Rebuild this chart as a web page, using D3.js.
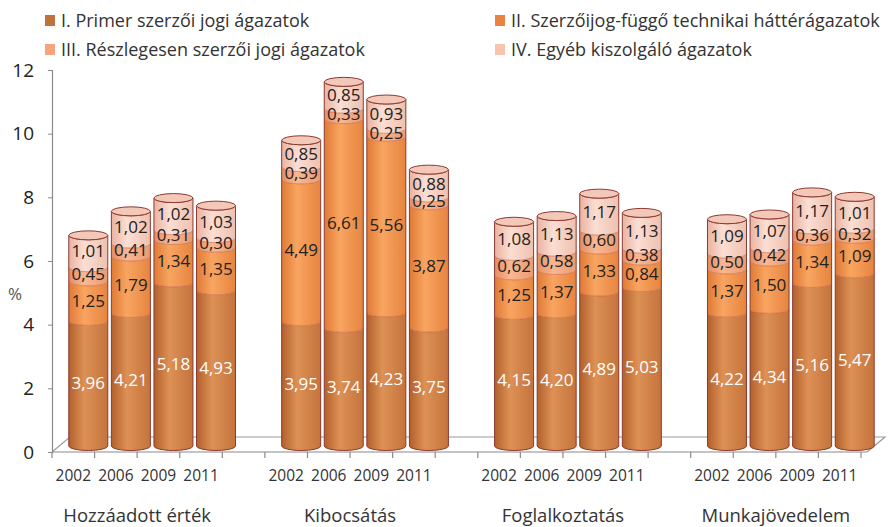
<!DOCTYPE html>
<html>
<head>
<meta charset="utf-8">
<script src="https://cdn.jsdelivr.net/npm/d3@7"></script>
<style>
  body { margin: 0; background: #fff; }
  svg { display: block; }
  .narrow { font-family: "Open Sans", sans-serif; }
  .num { font-family: "Open Sans", sans-serif; }
</style>
</head>
<body>
<svg id="chart" width="890" height="527"></svg>
<script>
// data
const categories = ["Hozzáadott érték", "Kibocsátás", "Foglalkoztatás", "Munkajövedelem"]
const years = ["2002", "2006", "2009", "2011"]
const seriesNames = [
    "I. Primer szerzői jogi ágazatok",
    "II. Szerzőijog-függő technikai háttérágazatok",
    "III. Részlegesen szerzői jogi ágazatok",
    "IV. Egyéb kiszolgáló ágazatok"
]
// per category, then per year
const primer   = [3.96, 4.21, 5.18, 4.93,  3.95, 3.74, 4.23, 3.75,  4.15, 4.20, 4.89, 5.03,  4.22, 4.34, 5.16, 5.47]
const fuggo    = [1.25, 1.79, 1.34, 1.35,  4.49, 6.61, 5.56, 3.87,  1.25, 1.37, 1.33, 0.84,  1.37, 1.50, 1.34, 1.09]
const reszleges = [0.45, 0.41, 0.31, 0.30,  0.39, 0.33, 0.25, 0.25,  0.62, 0.58, 0.60, 0.38,  0.50, 0.42, 0.36, 0.32]
const egyeb    = [1.01, 1.02, 1.02, 1.03,  0.85, 0.85, 0.93, 0.88,  1.08, 1.13, 1.17, 1.13,  1.09, 1.07, 1.17, 1.01]
const yTicks = [0, 2, 4, 6, 8, 10, 12]

const keys = ["s0", "s1", "s2", "s3"]
const rows = []
categories.forEach((c, ci) => {
    years.forEach((yr, yi) => {
        const i = ci * 4 + yi
        rows.push({ slot: ci * 5 + yi, year: yr, s0: primer[i], s1: fuggo[i], s2: reszleges[i], s3: egyeb[i] })
    })
})
const stacked = d3.stack().keys(keys)(rows)

const svg = d3.select('#chart')

// colours
const swatch = ["#c0713c", "#e8843f", "#f7a47a", "#f9c4ad"]
const grad = [
    ["#b3602c", "#dd9155", "#c4733c"],
    ["#df7a35", "#f8a561", "#e6843f"],
    ["#e48d62", "#f9b894", "#ea9a70"],
    ["#eab2a0", "#fbded3", "#efc0ae"]
]
const defs = svg.append('defs')
grad.forEach((g, i) => {
    const lg = defs.append('linearGradient').attr('id', 'g' + i)
        .attr('x1', '0%').attr('x2', '100%').attr('y1', '0%').attr('y2', '0%')
    lg.append('stop').attr('offset', '0%').attr('stop-color', g[0])
    lg.append('stop').attr('offset', '40%').attr('stop-color', g[1])
    lg.append('stop').attr('offset', '100%').attr('stop-color', g[2])
})

// scales
const y = d3.scaleLinear().domain([0, 12]).range([452, 70])
const yb = d3.scaleLinear().domain([0, 12]).range([446, 67])   // bars sit back in depth
const x = d3.scaleBand().domain(d3.range(19)).range([52, 861]).padding(0)
const bw = x.bandwidth()
const rx = 19.5, ry = 4.5, shift = 15

// floor
const floor = svg.append('g').attr('stroke', '#9a9a9a').attr('fill', 'none').attr('stroke-width', 1.2)
floor.append('path').attr('d', `M52,452 L70,437 L885,437 L867,452`)
floor.append('path').attr('d', `M52,452 L867,452`).attr('stroke', '#8a8a8a')

// y axis
const yAxis = svg.append('g').attr('transform', 'translate(52,0)')
    .call(d3.axisLeft(y).tickValues(yTicks).tickSize(4).tickPadding(14))
yAxis.select('.domain').attr('stroke', '#8a8a8a').attr('stroke-width', 1.2)
yAxis.selectAll('.tick line').attr('stroke', '#8a8a8a')
yAxis.selectAll('.tick text').attr('class', 'num').style('font-size', '19px').attr('fill', '#222')

// category ticks
svg.append('g').selectAll('line').data(d3.range(20)).join('line')
    .attr('x1', d => 52 + d * bw).attr('x2', d => 52 + d * bw)
    .attr('y1', 452).attr('y2', 458)
    .attr('stroke', '#8a8a8a').attr('stroke-width', 1.2)

// cylinders
function seg(cx, y0, y1) {
    return `M${cx - rx},${y1} L${cx - rx},${y0} A${rx},${ry} 0 0 0 ${cx + rx},${y0} L${cx + rx},${y1} A${rx},${ry} 0 0 1 ${cx - rx},${y1} Z`
}
const bars = svg.append('g')
rows.forEach((r, ri) => {
    const cx = x(r.slot) + bw / 2 + shift
    const g = bars.append('g')
    stacked.forEach((s, si) => {
        const d = s[ri]
        g.append('path').attr('d', seg(cx, yb(d[0]), yb(d[1])))
            .attr('fill', `url(#g${si})`)
        if (si > 0) {
            g.append('path')
                .attr('d', `M${cx - rx},${yb(d[0])} A${rx},${ry} 0 0 0 ${cx + rx},${yb(d[0])}`)
                .attr('fill', 'none').attr('stroke', '#c4553a').attr('stroke-opacity', 0.55).attr('stroke-width', 1)
        }
    })
    const top = stacked[3][ri][1]
    g.append('path').attr('d', seg(cx, yb(0), yb(top)))
        .attr('fill', 'none').attr('stroke', '#8c3a30').attr('stroke-width', 1)
    g.append('ellipse').attr('cx', cx).attr('cy', yb(top)).attr('rx', rx).attr('ry', ry)
        .attr('fill', '#f3c8b9').attr('stroke', '#8c3a30').attr('stroke-width', 1)
})

// value labels
const fmt = v => v.toFixed(2).replace('.', ',')
const labels = svg.append('g').attr('class', 'num').style('font-size', '17px').attr('text-anchor', 'middle')
stacked.forEach((s, si) => {
    labels.selectAll(null).data(s).join('text')
        .attr('x', (d, i) => x(rows[i].slot) + bw / 2 + shift)
        .attr('y', d => yb((d[0] + d[1]) / 2) + 6)
        .attr('fill', si === 0 ? '#fff' : '#222')
        .text(d => fmt(d[1] - d[0]))
})

// year labels
svg.append('g').attr('class', 'narrow').style('font-size', '15.5px').attr('text-anchor', 'middle')
    .selectAll('text').data(rows).join('text')
    .attr('x', d => x(d.slot) + bw / 2)
    .attr('y', 481)
    .attr('fill', '#333')
    .text(d => d.year)

// category labels
svg.append('g').attr('class', 'narrow').style('font-size', '18.5px').attr('text-anchor', 'middle')
    .selectAll('text').data(categories).join('text')
    .attr('x', (d, i) => x(i * 5) + bw * 2)
    .attr('y', 522)
    .attr('fill', '#333')
    .text(d => d)

// % label
svg.append('text').attr('class', 'num').attr('x', 15).attr('y', 300)
    .attr('text-anchor', 'middle').style('font-size', '17px').attr('fill', '#555').text('%')

// legend
const legPos = [[45, 15], [495, 15], [45, 44], [495, 44]]
const leg = svg.append('g').attr('class', 'narrow').style('font-size', '18px')
seriesNames.forEach((n, i) => {
    leg.append('rect').attr('x', legPos[i][0]).attr('y', legPos[i][1])
        .attr('width', 10).attr('height', 11).attr('fill', swatch[i])
    leg.append('text').attr('x', legPos[i][0] + 16).attr('y', legPos[i][1] + 12)
        .attr('fill', '#333').text(n)
})
</script>
</body>
</html>
